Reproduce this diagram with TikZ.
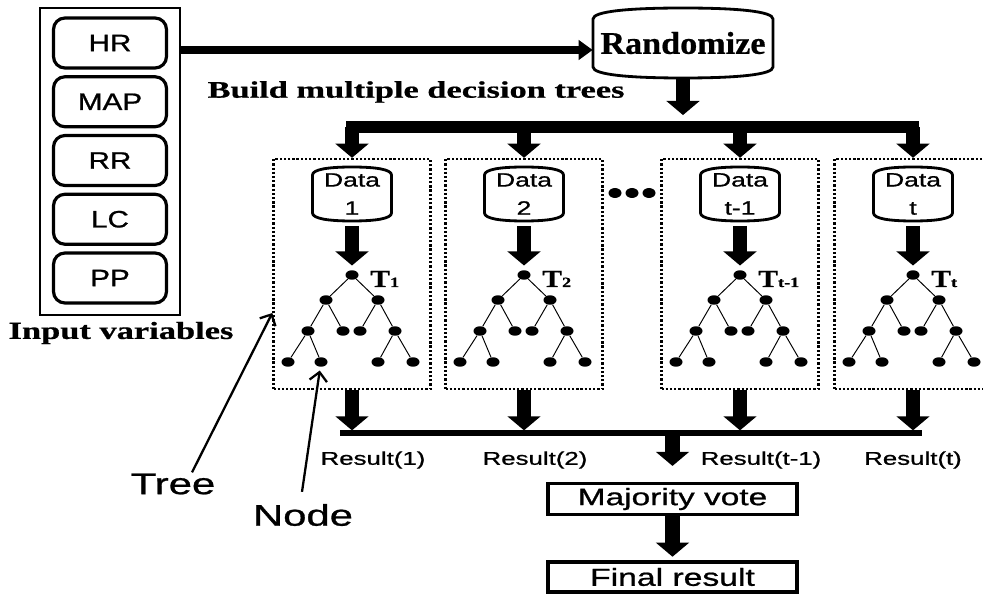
\documentclass[tikz,border=0pt]{standalone}
\usepackage{fontspec}
\setmainfont{Liberation Serif}[BoldFeatures={FakeBold=0.6}]
\setsansfont{Liberation Sans}[FakeBold=0.8]
\usepackage{graphicx}
\usetikzlibrary{calc}
\usetikzlibrary{positioning}
\usetikzlibrary{arrows.meta}
\usetikzlibrary{shapes.geometric}

\newcommand{\wide}[2][1.4]{\scalebox{#1}[1]{#2}}
% drum outline round a node: name, half width, half side height, bulge
\newcommand{\drum}[4]{%
  \draw[drumline] ($(#1)+(-#2,#3)$) -- ($(#1)+(-#2,-#3)$)
    .. controls ($(#1)+(-#2,-#3-0.7*#4)$) and ($(#1)+(-0.6*#2,-#3-#4)$) .. ($(#1)+(0,-#3-#4)$)
    .. controls ($(#1)+(0.6*#2,-#3-#4)$) and ($(#1)+(#2,-#3-0.7*#4)$) .. ($(#1)+(#2,-#3)$)
    -- ($(#1)+(#2,#3)$)
    .. controls ($(#1)+(#2,#3+0.7*#4)$) and ($(#1)+(0.6*#2,#3+#4)$) .. ($(#1)+(0,#3+#4)$)
    .. controls ($(#1)+(-0.6*#2,#3+#4)$) and ($(#1)+(-#2,#3+0.7*#4)$) .. cycle;
  \coordinate (#1-top) at ($(#1)+(0,-#3-#4)$);
  \coordinate (#1-bot) at ($(#1)+(0,#3+#4)$);
}

\begin{document}
\begin{tikzpicture}[x=0.02cm, y=-0.02cm,
    varbox/.style={draw, line width=1.8pt, rounded corners=6.5pt, minimum width=2.26cm,
      minimum height=1cm, inner sep=0pt, font=\sffamily\fontsize{13.5}{14}\selectfont},
    outerbox/.style={draw, line width=1.3pt, minimum width=2.8cm, minimum height=6.14cm},
    frame/.style={draw, line width=1.4pt, dash pattern=on 1.3pt off 1.1pt,
      minimum width=3.14cm, minimum height=4.6cm, inner sep=0pt},
    drumline/.style={line width=1.6pt},
    leaf/.style={ellipse, fill, inner sep=0pt, minimum width=0.26cm, minimum height=0.19cm},
    branch/.style={line width=0.55pt},
    fat/.style={line width=8.5pt, -{Triangle[width=18.5pt,length=8pt]}},
    thinarrow/.style={line width=4.7pt, -{Triangle[width=11pt,length=8pt]}},
    bar/.style={line width=6.8pt, line cap=rect},
    resline/.style={line width=3pt},
    pointer/.style={line width=1.3pt, -{Straight Barb[length=5pt,width=10pt]}},
    result/.style={font=\sffamily\fontsize{10.5}{12}\selectfont},
    votebox/.style={draw, line width=2pt, minimum width=4.98cm, minimum height=0.62cm,
      inner sep=0pt, font=\sffamily\fontsize{13.5}{14}\selectfont},
    datatext/.style={align=center, inner sep=0pt, font=\sffamily\fontsize{11}{16}\selectfont},
    head/.style={font=\bfseries\fontsize{13.5}{15}\selectfont},
    callout/.style={font=\sffamily\fontsize{17}{18}\selectfont}]
  \useasboundingbox (0,0) rectangle (983,594);
  \clip (0,0) rectangle (983,594);

  % input variables
  \node[outerbox] (inp) at (110,161.5) {};
  \foreach \v [count=\k] in {HR,MAP,RR,LC,PP}
    \node[varbox] (v\k) at (110,{43+(\k-1)*58.75}) {\wide[1.25]{\v}};
  \node[head, font=\bfseries\fontsize{14}{15}\selectfont] (invar) at (121,333) {\wide{Input variables}};

  % randomize
  \node[font=\bfseries\fontsize{18}{20}\selectfont, minimum width=3.6cm, inner sep=0pt] (rz) at (683,43) {\wide[1.08]{Randomize}};
  \drum{rz}{90}{24}{11}
  \draw[thinarrow] ($(inp.east |- v1)+(0,7)$) -- ($(rz.west)+(0,7)$);
  \node[head] (build) at (416,92) {\wide[1.45]{Build multiple decision trees}};

  % one column per tree
  \foreach \i/\x/\n in {1/352/1, 2/524/2, 3/740/t-1, 4/913/t} {
    \node[frame] (f\i) at (\x,274) {};
    \node[datatext] (d\i) at (\x,194) {\wide[1.37]{Data}\\\wide[1.37]{\n}};
    \drum{d\i}{39.5}{19}{8}
    \node[leaf] (r\i) at (\x,275) {};
    \node[leaf] (la\i) at (\x-26,300) {};
    \node[leaf] (lb\i) at (\x+26,300) {};
    \node[leaf] (ma\i) at (\x-44,331) {};
    \node[leaf] (mb\i) at (\x-9,331) {};
    \node[leaf] (mc\i) at (\x+8,331) {};
    \node[leaf] (md\i) at (\x+43,331) {};
    \node[leaf] (na\i) at (\x-64,362) {};
    \node[leaf] (nb\i) at (\x-31,362) {};
    \node[leaf] (nc\i) at (\x+26,362) {};
    \node[leaf] (nd\i) at (\x+61,362) {};
    \draw[branch] (la\i) -- (r\i) -- (lb\i)
      (ma\i) -- (la\i) -- (mb\i) (mc\i) -- (lb\i) -- (md\i)
      (na\i) -- (ma\i) -- (nb\i) (nc\i) -- (md\i) -- (nd\i);
    \node[anchor=base west, inner sep=0pt] (t\i) at (\x+18,287)
      {{\bfseries\fontsize{14}{14}\selectfont\wide[1.2]{T}}{\bfseries\fontsize{8}{8}\selectfont\wide[1.3]{\n}}};
    \draw[fat, shorten <=2.8pt, shorten >=2.5pt] (d\i-bot) -- (r\i);
    \coordinate (top\i) at (f\i.north |- 0,127);
    \coordinate (low\i) at (f\i.south |- 0,433);
    \draw[fat] (top\i) -- (f\i.north);
    \draw[fat, shorten >=1.5pt] (f\i.south) -- (low\i);
  }
  \draw[bar] (top1) -- (top4);
  \draw[fat, shorten >=6.8pt] (rz-bot) -- (rz |- top1);

  % dots between the trees
  \foreach \k/\dx in {1/615, 2/632, 3/649}
    \node[leaf, minimum width=0.26cm, minimum height=0.2cm] (e\k) at (\dx,193) {};

  % results and vote
  \coordinate (rl) at (340,433);
  \coordinate (rr) at (922,433);
  \draw[resline] (rl) -- (rr);
  \node[result] (res1) at (373,460) {\wide{Result(1)}};
  \node[result] (res2) at (535,460) {\wide{Result(2)}};
  \node[result] (res3) at (761,460) {\wide{Result(t-1)}};
  \node[result] (res4) at (913,460) {\wide{Result(t)}};
  \node[votebox] (mv) at (672.5,499) {\wide[1.41]{Majority vote}};
  \node[votebox, minimum height=0.6cm, font=\sffamily\fontsize{14}{15}\selectfont] (fr) at (672.5,577) {\wide[1.37]{Final result}};
  \draw[fat, shorten >=9pt] (mv.north |- rl) -- (mv.north);
  \draw[fat, shorten >=2pt] (mv.south) -- (fr.north);

  % callouts
  \node[callout] (treelbl) at (173,484) {\wide{Tree}};
  \node[callout] (nodelbl) at (303,515) {\wide{Node}};
  \coordinate (treetip) at (f1.west |- 0,313);
  \draw[pointer] ($(treelbl.north)+(19,5)$) -- (treetip);
  \draw[pointer, shorten >=2pt] ($(nodelbl.north)+(-1,-6)$) -- (nb1);
\end{tikzpicture}
\end{document}
